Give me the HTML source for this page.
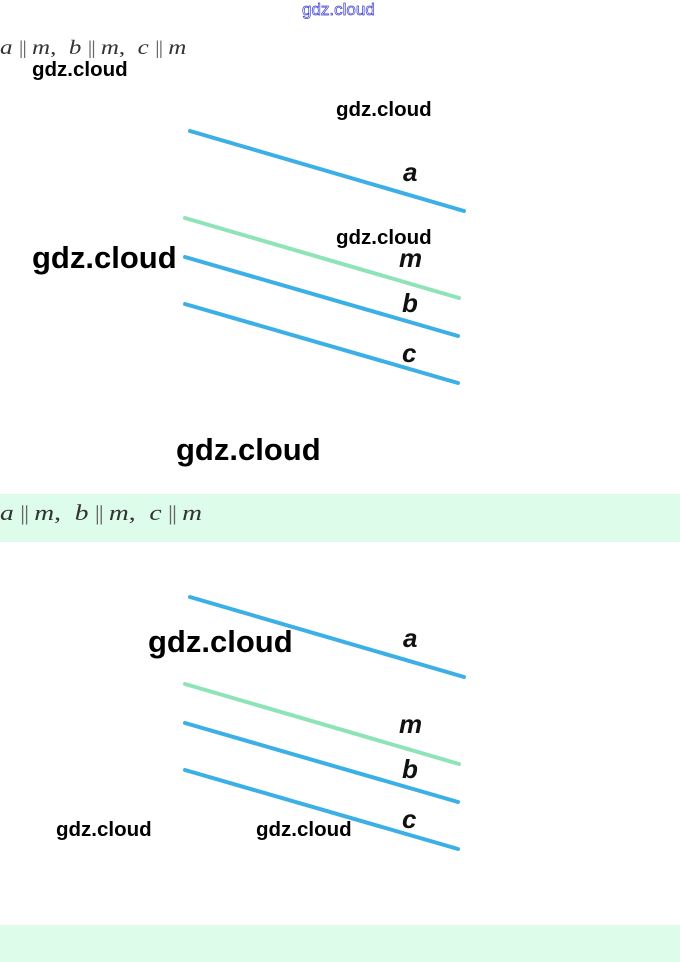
<!DOCTYPE html>
<html><head><meta charset="utf-8"><style>
html,body{margin:0;padding:0;background:#fff;width:680px;height:962px;overflow:hidden;position:relative;font-family:"Liberation Sans",sans-serif}
.a{position:absolute;white-space:nowrap}
.m{font-family:"Liberation Serif",serif;color:#333;transform:scaleX(1.25);transform-origin:0 0}
.m i{font-style:italic}
.p{margin:0 5px;letter-spacing:-1px;color:#666;font-size:0.95em}
.w{font-family:"Liberation Sans",sans-serif;color:#000;font-weight:bold}
.band{position:absolute;left:0;width:680px;background:#ddfce9}
.lbl{font-family:"Liberation Sans",sans-serif;font-style:italic;font-weight:bold;font-size:26px;color:#111}
</style></head><body>
<div class="band" style="top:494px;height:48px"></div>
<div class="band" style="top:925px;height:37px"></div>

<div class="a" style="left:302px;top:0px;font-size:17px;color:#fff;-webkit-text-stroke:0.7px #3c3ccc">gdz.cloud</div>

<div class="a m" style="left:0;top:37px;font-size:20px"><i>a</i><span class="p">||</span><i>m</i>,&nbsp; <i>b</i><span class="p">||</span><i>m</i>,&nbsp; <i>c</i><span class="p">||</span><i>m</i></div>
<div class="a m" style="left:0;top:500px;font-size:22px"><i>a</i><span class="p">||</span><i>m</i>,&nbsp; <i>b</i><span class="p">||</span><i>m</i>,&nbsp; <i>c</i><span class="p">||</span><i>m</i></div>

<svg class="a" style="left:0;top:0" width="680" height="962">
<g stroke-width="4" stroke-linecap="round">
<line x1="190" y1="131" x2="464" y2="211" stroke="#3cb0e6"/>
<line x1="185" y1="218" x2="459" y2="298" stroke="#8fe3b8"/>
<line x1="185" y1="257" x2="458" y2="336" stroke="#3cb0e6"/>
<line x1="185" y1="304" x2="458" y2="383" stroke="#3cb0e6"/>
<line x1="190" y1="597" x2="464" y2="677" stroke="#3cb0e6"/>
<line x1="185" y1="684" x2="459" y2="764" stroke="#8fe3b8"/>
<line x1="185" y1="723" x2="458" y2="802" stroke="#3cb0e6"/>
<line x1="185" y1="770" x2="458" y2="849" stroke="#3cb0e6"/>
</g>
</svg>

<div class="a lbl" style="left:403px;top:157px">a</div>
<div class="a lbl" style="left:399px;top:243px">m</div>
<div class="a lbl" style="left:402px;top:288px">b</div>
<div class="a lbl" style="left:402px;top:338px">c</div>
<div class="a lbl" style="left:403px;top:623px">a</div>
<div class="a lbl" style="left:399px;top:709px">m</div>
<div class="a lbl" style="left:402px;top:754px">b</div>
<div class="a lbl" style="left:402px;top:804px">c</div>

<div class="a w" style="left:32px;top:58px;font-size:20.5px">gdz.cloud</div>
<div class="a w" style="left:336px;top:98px;font-size:20.5px">gdz.cloud</div>
<div class="a w" style="left:336px;top:226px;font-size:20.5px">gdz.cloud</div>
<div class="a w" style="left:32px;top:240px;font-size:31px">gdz.cloud</div>
<div class="a w" style="left:176px;top:432px;font-size:31px">gdz.cloud</div>
<div class="a w" style="left:148px;top:624px;font-size:31px">gdz.cloud</div>
<div class="a w" style="left:56px;top:818px;font-size:20.5px">gdz.cloud</div>
<div class="a w" style="left:256px;top:818px;font-size:20.5px">gdz.cloud</div>
</body></html>
